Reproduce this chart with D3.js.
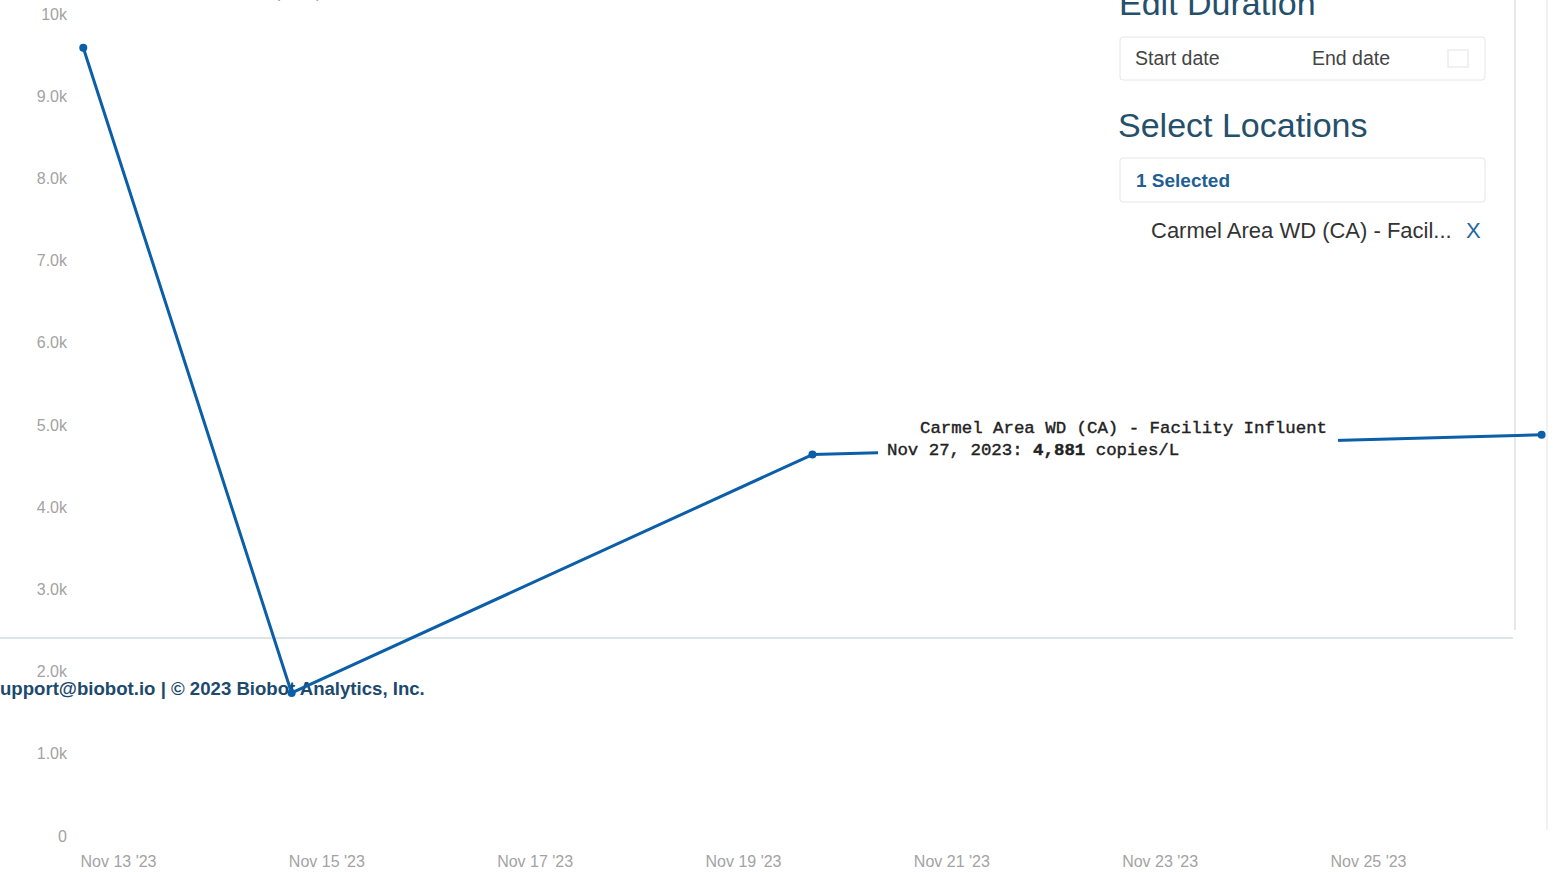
<!DOCTYPE html>
<html lang="en">
<head>
    <meta charset="UTF-8">
    <script src="https://d3js.org/d3.v7.min.js"></script>
    <title>Carmel Area WD (CA) - Facility Influent</title>
    <style>
        body { margin: 0; background: #fff; }
        svg { display: block; }
        .tick text { fill: #a3a3a3; }
    </style>
</head>
<body>
    <svg width="1559" height="872"></svg>

    <script>
        // samples are stamped at midnight UTC, the page shows them in Pacific time
        var sampleDates = ["2023-11-13", "2023-11-15", "2023-11-20", "2023-11-27"];
        var copiesPerL = [9590, 1740, 4640, 4881];
        var tzShiftHours = -8;

        var yTickValues = [0, 1000, 2000, 3000, 4000, 5000, 6000, 7000, 8000, 9000, 10000];
        var yTickLabels = ["0", "1.0k", "2.0k", "3.0k", "4.0k", "5.0k", "6.0k", "7.0k", "8.0k", "9.0k", "10k"];
        var xTickDates = ["2023-11-13", "2023-11-15", "2023-11-17", "2023-11-19", "2023-11-21", "2023-11-23", "2023-11-25"];
        var xTickLabels = ["Nov 13 '23", "Nov 15 '23", "Nov 17 '23", "Nov 19 '23", "Nov 21 '23", "Nov 23 '23", "Nov 25 '23"];

        var locationName = "Carmel Area WD (CA) - Facility Influent";
        var tooltipDate = "Nov 27, 2023";

        var parseDay = d3.timeParse("%Y-%m-%d");
        var svg = d3.select("svg");
        var sans = "'Liberation Sans', Arial, sans-serif";
        var mono = "'Liberation Mono', monospace";

        var x = d3.scaleTime()
            .domain([parseDay("2023-11-13"), parseDay("2023-11-25")])
            .range([118, 1368]);
        var y = d3.scaleLinear().domain([0, 10000]).range([836, 14]);

        var data = sampleDates.map((d, i) => ({
            date: d3.timeHour.offset(parseDay(d), tzShiftHours),
            value: copiesPerL[i]
        }));

        // faint cut-off heading at the very top
        svg.append("text")
            .attr("x", 30).attr("y", -3)
            .attr("font-family", sans).attr("font-size", 18)
            .attr("fill", "#9aa6b0")
            .text("SARS-CoV-2 concentration, copies per liter");

        // card borders of the page behind the chart
        svg.append("line")
            .attr("x1", 0).attr("x2", 1513).attr("y1", 638).attr("y2", 638)
            .attr("stroke", "#b9c8d4").attr("stroke-width", 1);
        svg.append("line")
            .attr("x1", 1515).attr("x2", 1515).attr("y1", 0).attr("y2", 630)
            .attr("stroke", "#e8e8e8").attr("stroke-width", 2);
        svg.append("line")
            .attr("x1", 1547).attr("x2", 1547).attr("y1", 0).attr("y2", 830)
            .attr("stroke", "#f2f2f2").attr("stroke-width", 2);

        // right panel
        var panel = svg.append("g");
        panel.append("text")
            .attr("x", 1119).attr("y", 15)
            .attr("font-family", sans).attr("font-size", 34)
            .attr("fill", "#24506b")
            .text("Edit Duration");
        panel.append("rect")
            .attr("x", 1120).attr("y", 37).attr("width", 365).attr("height", 43)
            .attr("rx", 3).attr("fill", "#fff").attr("stroke", "#e6e6e6");
        panel.append("text")
            .attr("x", 1135).attr("y", 65)
            .attr("font-family", sans).attr("font-size", 19.5).attr("fill", "#444")
            .text("Start date");
        panel.append("text")
            .attr("x", 1312).attr("y", 65)
            .attr("font-family", sans).attr("font-size", 19.5).attr("fill", "#444")
            .text("End date");
        panel.append("rect")
            .attr("x", 1448).attr("y", 50).attr("width", 20).attr("height", 17)
            .attr("fill", "none").attr("stroke", "#f1f1f1").attr("stroke-width", 2);

        panel.append("text")
            .attr("x", 1118).attr("y", 137)
            .attr("font-family", sans).attr("font-size", 34)
            .attr("fill", "#24506b")
            .text("Select Locations");
        panel.append("rect")
            .attr("x", 1120).attr("y", 158).attr("width", 365).attr("height", 44)
            .attr("rx", 3).attr("fill", "#fff").attr("stroke", "#e6e6e6");
        panel.append("text")
            .attr("x", 1136).attr("y", 187)
            .attr("font-family", sans).attr("font-size", 19).attr("font-weight", "bold")
            .attr("fill", "#1f5f94")
            .text("1 Selected");
        panel.append("text")
            .attr("x", 1151).attr("y", 238)
            .attr("font-family", sans).attr("font-size", 22).attr("fill", "#333")
            .text("Carmel Area WD (CA) - Facil...");
        panel.append("text")
            .attr("x", 1466).attr("y", 238)
            .attr("font-family", sans).attr("font-size", 22).attr("fill", "#1e66a3")
            .text("X");

        // footer of the page, sitting under the plot line
        svg.append("text")
            .attr("x", 0).attr("y", 695)
            .attr("font-family", sans).attr("font-size", 18.6).attr("font-weight", "bold")
            .attr("fill", "#1d4a6c")
            .text("upport@biobot.io | \u00a9 2023 Biobot Analytics, Inc.");

        // axes
        var yAxis = svg.append("g")
            .attr("transform", "translate(67,0)")
            .call(d3.axisLeft(y).tickValues(yTickValues)
                .tickFormat((d, i) => yTickLabels[i]).tickSize(0));
        yAxis.select(".domain").remove();
        yAxis.selectAll("text")
            .attr("font-family", sans).attr("font-size", 16)
            .attr("x", 0);

        var xAxis = svg.append("g")
            .attr("transform", "translate(0,853)")
            .call(d3.axisBottom(x).tickValues(xTickDates.map(parseDay))
                .tickFormat((d, i) => xTickLabels[i]).tickSize(0));
        xAxis.select(".domain").remove();
        xAxis.selectAll("text")
            .attr("font-family", sans).attr("font-size", 16);

        // series
        var line = d3.line().x(d => x(d.date)).y(d => y(d.value));
        svg.append("path")
            .datum(data)
            .attr("d", line)
            .attr("fill", "none")
            .attr("stroke", "#0b5ea8")
            .attr("stroke-width", 3)
            .attr("stroke-linejoin", "round");

        svg.selectAll(".dot")
            .data(data)
            .enter().append("circle")
            .attr("class", "dot")
            .attr("cx", d => x(d.date))
            .attr("cy", d => y(d.value))
            .attr("r", 4)
            .attr("fill", "#0b5ea8");

        // hover label for the last sample
        var last = data[data.length - 1];
        var tip = svg.append("g");
        tip.append("rect")
            .attr("x", 878).attr("y", 412).attr("width", 460).attr("height", 54)
            .attr("fill", "#fff");
        tip.append("text")
            .attr("x", 920).attr("y", 433)
            .attr("font-family", mono).attr("font-size", 17.4)
            .attr("fill", "#222").attr("stroke", "#222").attr("stroke-width", 0.4)
            .text(locationName);
        var t2 = tip.append("text")
            .attr("x", 887).attr("y", 455)
            .attr("font-family", mono).attr("font-size", 17.4)
            .attr("fill", "#222").attr("stroke", "#222").attr("stroke-width", 0.4);
        t2.append("tspan").text(tooltipDate + ": ");
        t2.append("tspan").attr("font-weight", "bold").text(d3.format(",")(last.value));
        t2.append("tspan").text(" copies/L");
    </script>
</body>
</html>
